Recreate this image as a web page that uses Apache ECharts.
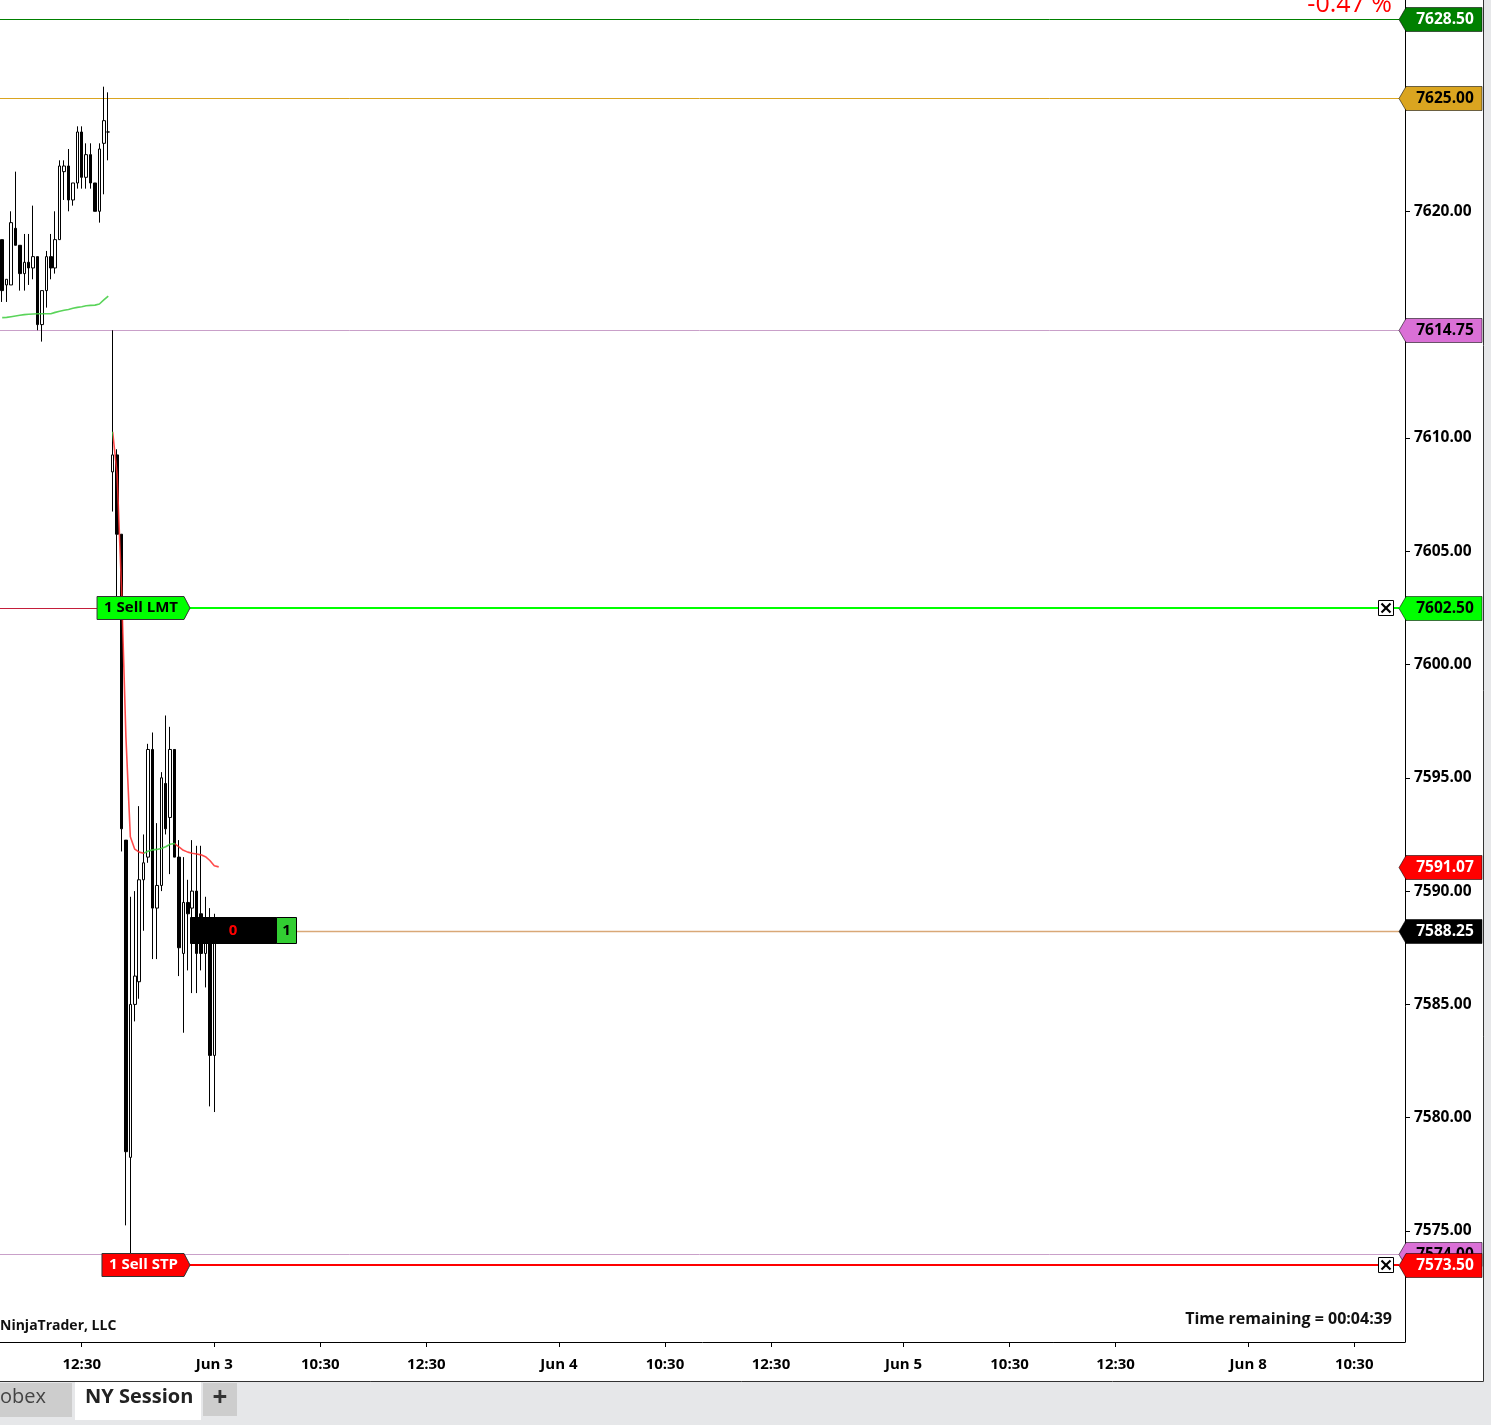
<!DOCTYPE html>
<html><head><meta charset="utf-8">
<script src="https://cdn.jsdelivr.net/npm/echarts@6/dist/echarts.min.js"></script>
<style>html,body{margin:0;padding:0;background:#fff;overflow:hidden}#chart{width:1491px;height:1425px}</style>
</head><body><div id="chart"></div>
<script>
// ---------------- DATA ----------------
const barOpen = [7618.75,7616.75,7616.75,7619.25,7618.50,7617.25,7617.75,7617.50,7618.00,7615.00,7616.50,7618.00,7617.50,7618.75,7621.75,7622.00,7620.50,7621.25,7623.50,7621.50,7622.50,7621.25,7620.00,7623.00,7623.50,
  7608.50,7609.25,7605.75,7592.25,7578.25,7585.00,7586.00,7590.50,7591.50,7596.25,7589.25,7590.25,7594.75,7593.25,7596.25,7591.50,7587.25,7589.50,7589.25,7590.00,7589.00,7587.25,7588.50,7582.75,7588.50];
const barClose = [7616.50,7617.00,7619.50,7618.50,7617.25,7617.75,7617.50,7618.00,7615.00,7616.50,7618.00,7617.50,7618.75,7622.00,7622.00,7620.50,7621.25,7623.50,7621.50,7622.50,7621.25,7620.00,7622.75,7624.00,7623.50,
  7609.25,7605.75,7592.75,7578.50,7585.00,7586.25,7590.50,7591.25,7596.25,7589.25,7590.25,7595.00,7592.75,7596.25,7591.50,7587.50,7589.50,7589.00,7590.00,7587.25,7587.25,7588.50,7582.75,7588.50,7588.25];
const barLow = [7616.00,7616.00,7616.75,7618.50,7616.50,7616.50,7616.75,7617.00,7614.75,7614.25,7615.75,7617.00,7617.25,7618.75,7620.50,7620.00,7620.25,7621.00,7621.00,7621.00,7621.00,7620.00,7619.50,7620.75,7622.25,
  7606.75,7603.00,7591.75,7575.25,7574.00,7584.25,7585.25,7588.25,7591.25,7587.00,7587.00,7590.00,7592.50,7590.75,7591.50,7586.25,7583.75,7586.50,7585.50,7585.50,7586.50,7585.75,7580.50,7580.25,7587.75];
const barHigh = [7618.75,7617.00,7620.00,7621.75,7618.50,7619.00,7619.00,7620.25,7618.00,7616.50,7618.25,7619.00,7620.00,7622.25,7622.25,7622.75,7621.25,7623.75,7623.75,7623.00,7623.00,7621.25,7623.00,7625.50,7625.25,
  7614.75,7609.50,7605.75,7592.25,7589.75,7590.00,7593.75,7592.50,7596.50,7597.00,7593.00,7595.25,7597.75,7597.25,7596.25,7592.25,7591.50,7590.50,7592.25,7592.00,7592.00,7589.75,7589.25,7589.00,7588.75];

const emaSession1 = [7615.31,7615.32,7615.35,7615.38,7615.41,7615.44,7615.46,7615.47,7615.48,7615.48,7615.48,7615.48,7615.54,7615.59,7615.63,7615.67,7615.72,7615.76,7615.79,7615.83,7615.85,7615.86,7615.91,7616.09,7616.26];
const emaSession2 = [7610.27,7608.40,7603.40,7596.80,7592.40,7591.85,7591.72,7591.67,7591.76,7591.82,7591.84,7591.88,7591.96,7592.07,7592.10,7591.95,7591.80,7591.72,7591.67,7591.64,7591.60,7591.52,7591.35,7591.12,7591.07];

const slotCount = 318;
const timeTickIndex = [18,48,72,96,126,150,174,204,228,252,282,306];
const timeTickLabel = ['12:30','Jun 3','10:30','12:30','Jun 4','10:30','12:30','Jun 5','10:30','12:30','Jun 8','10:30'];
const priceTickValues = [7575, 7580, 7585, 7590, 7595, 7600, 7605, 7610, 7615, 7620, 7625];
const priceMin = 7570.102, priceMax = 7629.325;

const levelNames  = ['sessionHigh','target','priorLow','priorLow2','sellLimit','lastPrice','emaValue','sellStop'];
const levelPrices = [7628.50, 7625.00, 7614.75, 7574.00, 7602.50, 7588.25, 7591.07, 7573.50];

const orderLabels = ['1 Sell LMT', '1 Sell STP'];
const orderPrices = [7602.50, 7573.50];
const positionPnl = '0';
const positionQty = '1';
const changeText = '-0.47 %';
const timeRemainingText = 'Time remaining = 00:04:39';
const copyrightText = 'NinjaTrader, LLC';
const tabLabels = ['obex', 'NY Session', '+'];

// ---------------- STYLE ----------------
const FONT = '"Open Sans", "Noto Sans", sans-serif';
const LEVEL_STYLE = {
  sessionHigh: {kind:'line', line:'#008000', lw:1, tag:'#008000', text:'#ffffff'},
  target:      {kind:'line', line:'#DAA520', lw:1, tag:'#DAA520', text:'#000000'},
  priorLow:    {kind:'line', line:'#C9A0C9', lw:1, tag:'#DA70D6', text:'#000000'},
  priorLow2:   {kind:'line', line:'#C9A0C9', lw:1, tag:'#DA70D6', text:'#000000'},
  sellLimit:   {kind:'order', line:'#00FF00', lw:2, tag:'#00FF00', text:'#000000', labelText:'#000000'},
  lastPrice:   {kind:'position', line:'#D9A877', lw:1, tag:'#000000', text:'#ffffff'},
  emaValue:    {kind:'none', tag:'#FF0000', text:'#ffffff'},
  sellStop:    {kind:'order', line:'#FF0000', lw:2, tag:'#FF0000', text:'#ffffff', labelText:'#ffffff'}
};
const UP_COLOR = '#3ccc3c', DOWN_COLOR = '#ff2b2b';

function textW(str, font) {
  const c = textW.ctx || (textW.ctx = document.createElement('canvas').getContext('2d'));
  c.font = font; return c.measureText(str).width;
}

const categories = Array.from({length: slotCount}, (_, i) => String(i));
const tickSet = new Set(timeTickIndex);
const candleData = barOpen.map((o, i) => [o, barClose[i], barLow[i], barHigh[i]]);
const ema1Data = emaSession1.map((v, k) => [k, v]);
const ema2Data = emaSession2.map((v, k) => [emaSession1.length + k, v]);

// colour pieces by slope (rising green, falling red)
const pieces = [];
function addSlopePieces(pts) {
  let start = pts[0][0], cur = null;
  for (let k = 0; k < pts.length - 1; k++) {
    const c = pts[k + 1][1] >= pts[k][1] ? UP_COLOR : DOWN_COLOR;
    if (cur === null) { cur = c; start = pts[k][0]; }
    else if (c !== cur) { pieces.push({gte: start, lt: pts[k][0], color: cur}); cur = c; start = pts[k][0]; }
  }
  pieces.push({gte: start, lte: pts[pts.length - 1][0], color: cur});
}
addSlopePieces(ema1Data); addSlopePieces(ema2Data);

const lastIdx = barOpen.length - 1;
const hideNear = 0.88;

function hline(x1, x2, y, color, lw) {
  return {type:'line', shape:{x1, y1:y, x2, y2:y}, style:{stroke:color, lineWidth:lw}, silent:true};
}

function renderLevelLine(params, api) {
  const st = LEVEL_STYLE[levelNames[params.dataIndex]];
  const price = api.value(1);
  const cs = params.coordSys;
  const right = cs.x + cs.width, tip = right - 6;
  const yy = api.coord([0, price])[1];
  const y = st.lw === 2 ? Math.round(yy) : Math.round(yy) + 0.5;
  const anchor = Math.round(api.coord([lastIdx, price])[0] - 29);
  const ch = [];
  if (st.kind === 'line') ch.push(hline(cs.x, tip, y, st.line, st.lw));
  else if (st.kind === 'order') {
    const oi = orderPrices.indexOf(price);
    const w = textW(orderLabels[oi], 'bold 15px ' + FONT) + 19;
    if (oi === 0) ch.push(hline(cs.x, anchor - w, Math.round(yy) + 0.5, '#C41E3A', 1));
    ch.push(hline(anchor, right - 27, y, st.line, 2));
    ch.push(hline(right - 12, tip, y, st.line, 2));
  } else if (st.kind === 'position') ch.push(hline(anchor + 106, tip, y, st.line, 1.3));
  return {type:'group', children: ch};
}

function renderOrder(params, api) {
  const price = api.value(1);
  const cs = params.coordSys;
  const right = cs.x + cs.width;
  const y = Math.round(api.coord([0, price])[1]);
  const anchor = Math.round(api.coord([lastIdx, price])[0] - 29);
  const st = LEVEL_STYLE[price === orderPrices[0] ? 'sellLimit' : 'sellStop'];
  const font = 'bold 15px ' + FONT;
  const label = orderLabels[params.dataIndex];
  const w = textW(label, font) + 19;
  const l = anchor - w;
  const bx = right - 27;
  return {type:'group', children:[
    {type:'polygon', shape:{points:[[l, y-11.5],[anchor-6, y-11.5],[anchor, y],[anchor-6, y+11.5],[l, y+11.5]]},
     style:{fill:st.tag, stroke:'#333', lineWidth:1}},
    {type:'text', x:l + 7, y:y, style:{text:label, fill:st.labelText, font, align:'left', verticalAlign:'middle'}},
    {type:'rect', shape:{x:bx + 0.5, y:y - 7.5, width:15, height:15}, style:{fill:'#fff', stroke:'#000', lineWidth:1}},
    {type:'line', shape:{x1:bx + 3.5, y1:y - 4.5, x2:bx + 12.5, y2:y + 4.5}, style:{stroke:'#000', lineWidth:2.2}},
    {type:'line', shape:{x1:bx + 12.5, y1:y - 4.5, x2:bx + 3.5, y2:y + 4.5}, style:{stroke:'#000', lineWidth:2.2}}
  ]};
}

function renderPosition(params, api) {
  const price = api.value(1);
  const y = Math.round(api.coord([0, price])[1]);
  const anchor = Math.round(api.coord([lastIdx, price])[0] - 29);
  const font = 'bold 15px ' + FONT;
  return {type:'group', children:[
    {type:'rect', shape:{x:anchor + 0.5, y:y - 13.5, width:86, height:26}, style:{fill:'#000', stroke:'#000', lineWidth:1}},
    {type:'rect', shape:{x:anchor + 86.5, y:y - 13.5, width:20, height:26}, style:{fill:'#32CD32', stroke:'#000', lineWidth:1}},
    {type:'text', x:anchor + 43, y:y, style:{text:positionPnl, fill:'#ff0000', font, align:'center', verticalAlign:'middle'}},
    {type:'text', x:anchor + 96.5, y:y, style:{text:positionQty, fill:'#000', font, align:'center', verticalAlign:'middle'}}
  ]};
}

function renderTag(params, api) {
  const st = LEVEL_STYLE[levelNames[params.dataIndex]];
  const price = api.value(1);
  const cs = params.coordSys;
  const right = cs.x + cs.width;
  const y = Math.round(api.coord([0, price])[1]) + 0.5;
  const x0 = right - 6, x1 = right + 1, x2 = right + 77;
  return {type:'group', children:[
    {type:'polygon', shape:{points:[[x0, y],[x1, y-12],[x2, y-12],[x2, y+12],[x1, y+12]]},
     style:{fill:st.tag, stroke:'rgba(0,0,0,0.55)', lineWidth:1}},
    {type:'text', x:(x1 + x2) / 2 + 1, y:y + 0.5, style:{text:price.toFixed(2), fill:st.text, font:'bold 15.5px ' + FONT, align:'center', verticalAlign:'middle'}}
  ]};
}

const levelData = levelPrices.map((p, i) => [0, p]);
const orderData = orderPrices.map(p => [0, p]);
const positionData = [[0, levelPrices[levelNames.indexOf('lastPrice')]]];

const chart = echarts.init(document.getElementById('chart'), null, {renderer:'canvas'});
const option = {
  animation: false,
  backgroundColor: '#ffffff',
  grid: {left: 0, right: 86, top: 0, bottom: 83, containLabel: false},
  xAxis: {
    type: 'category', data: categories, boundaryGap: true,
    axisLine: {show: true, lineStyle: {color: '#000', width: 1}},
    axisTick: {show: true, interval: (i) => tickSet.has(i), alignWithLabel: true, length: 5, lineStyle: {color: '#000'}},
    axisLabel: {interval: (i) => tickSet.has(i), formatter: (v, i) => timeTickLabel[timeTickIndex.indexOf(Number(v))] || '',
      color: '#000', fontWeight: 'bold', fontSize: 15, fontFamily: FONT, margin: 15},
    splitLine: {show: false}
  },
  yAxis: {
    type: 'value', position: 'right', min: priceMin, max: priceMax,
    axisLine: {show: true, lineStyle: {color: '#000', width: 1}},
    axisTick: {show: true, length: 5, lineStyle: {color: '#000'}, customValues: priceTickValues},
    axisLabel: {
      customValues: priceTickValues,
      formatter: (v) => levelPrices.some(p => Math.abs(p - v) < hideNear) ? '' : Number(v).toFixed(2),
      color: '#000', fontWeight: 'bold', fontSize: 15.5, fontFamily: FONT, margin: 9
    },
    splitLine: {show: false}
  },
  visualMap: {type: 'piecewise', show: false, dimension: 0, seriesIndex: [2, 3], pieces, outOfRange: {color: UP_COLOR}},
  series: [
    {type: 'custom', name: 'levels', coordinateSystem: 'cartesian2d', renderItem: renderLevelLine, data: levelData, z: 1, clip: false, silent: true},
    {type: 'candlestick', name: 'bars', data: candleData, barWidth: 3, z: 2,
     itemStyle: {color: '#ffffff', color0: '#000000', borderColor: '#000000', borderColor0: '#000000', borderColorDoji: '#000000', borderWidth: 1}},
    {type: 'line', name: 'ema1', data: ema1Data, showSymbol: false, z: 3, lineStyle: {width: 1.6, opacity: 0.85}},
    {type: 'line', name: 'ema2', data: ema2Data, showSymbol: false, z: 3, lineStyle: {width: 1.6, opacity: 0.85}},
    {type: 'custom', name: 'orders', coordinateSystem: 'cartesian2d', renderItem: renderOrder, data: orderData, z: 8, clip: false, silent: true},
    {type: 'custom', name: 'position', coordinateSystem: 'cartesian2d', renderItem: renderPosition, data: positionData, z: 8, clip: false, silent: true},
    {type: 'custom', name: 'tags', coordinateSystem: 'cartesian2d', renderItem: renderTag, data: levelData, z: 10, clip: false, silent: true}
  ],
  graphic: [
    {type: 'text', right: 99, top: -8, z: 20, style: {text: changeText, fill: '#ff0000', font: '25px ' + FONT}},
    {type: 'text', left: 0, top: 1319, z: 20, style: {text: copyrightText, fill: '#111', font: 'bold 14px ' + FONT}},
    {type: 'text', right: 99, top: 1311, z: 20, style: {text: timeRemainingText, fill: '#111', font: 'bold 16px ' + FONT}},
    {type: 'rect', shape: {x: 1484, y: 0, width: 7, height: 1425}, style: {fill: '#e6e7e9'}, z: 20},
    {type: 'rect', shape: {x: 0, y: 1382, width: 1491, height: 43}, style: {fill: '#e6e7e9'}, z: 20},
    {type: 'line', shape: {x1: 1483.5, y1: 0, x2: 1483.5, y2: 1381.5}, style: {stroke: '#333', lineWidth: 1}, z: 21},
    {type: 'line', shape: {x1: 0, y1: 1381.5, x2: 1483.5, y2: 1381.5}, style: {stroke: '#333', lineWidth: 1}, z: 21},
    {type: 'rect', shape: {x: 0, y: 1383, width: 72, height: 34}, style: {fill: '#cdcdcd'}, z: 21},
    {type: 'text', left: 0, top: 1387, z: 22, style: {text: tabLabels[0], fill: '#444', font: '20px ' + FONT}},
    {type: 'rect', shape: {x: 75, y: 1382, width: 126, height: 38}, style: {fill: '#ffffff'}, z: 21},
    {type: 'text', left: 85, top: 1387, z: 22, style: {text: tabLabels[1], fill: '#222', font: 'bold 20px ' + FONT}},
    {type: 'rect', shape: {x: 203, y: 1383, width: 34, height: 33}, style: {fill: '#cdcdcd'}, z: 21},
    {type: 'text', x: 220, y: 1399, z: 22, style: {text: tabLabels[2], fill: '#333', font: 'bold 26px ' + FONT, align: 'center', verticalAlign: 'middle'}}
  ]
};
chart.setOption(option);
</script></body></html>
